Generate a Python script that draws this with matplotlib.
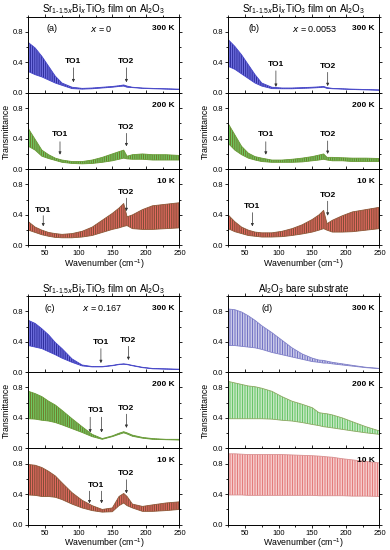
import numpy as np
import matplotlib.pyplot as plt
from matplotlib.colors import to_rgba
from matplotlib.ticker import MultipleLocator

plt.rcParams['font.family'] = ['Liberation Sans', 'DejaVu Sans']
plt.rcParams['mathtext.default'] = 'regular'
plt.rcParams['hatch.linewidth'] = 0.7

# wavenumber knots (cm^-1) where the fringe envelopes were read
wn = [25, 35, 45, 55, 65, 75, 90, 105, 120, 135, 150, 160, 167, 172, 180, 195, 210, 230, 250]

# (a) x = 0
a300_hi = [0.66, 0.59, 0.48, 0.35, 0.22, 0.13, 0.075, 0.06, 0.065, 0.075, 0.085, 0.095, 0.105, 0.09, 0.075, 0.065, 0.06, 0.055, 0.05]
a300_lo = [0.28, 0.24, 0.21, 0.17, 0.13, 0.10, 0.057, 0.05, 0.055, 0.065, 0.075, 0.085, 0.09, 0.075, 0.07, 0.06, 0.055, 0.05, 0.045]
a200_hi = [0.53, 0.39, 0.25, 0.19, 0.145, 0.12, 0.10, 0.10, 0.12, 0.155, 0.20, 0.23, 0.25, 0.17, 0.19, 0.20, 0.19, 0.19, 0.18]
a200_lo = [0.30, 0.25, 0.17, 0.14, 0.115, 0.09, 0.075, 0.07, 0.075, 0.09, 0.11, 0.13, 0.145, 0.135, 0.13, 0.13, 0.12, 0.12, 0.12]
a10_hi = [0.31, 0.24, 0.20, 0.17, 0.155, 0.145, 0.155, 0.185, 0.24, 0.33, 0.42, 0.49, 0.55, 0.375, 0.40, 0.47, 0.52, 0.54, 0.56]
a10_lo = [0.20, 0.17, 0.14, 0.12, 0.105, 0.10, 0.10, 0.11, 0.13, 0.17, 0.21, 0.23, 0.25, 0.26, 0.22, 0.21, 0.21, 0.22, 0.23]

# (b) x = 0.0053
b300_hi = [0.70, 0.61, 0.50, 0.37, 0.24, 0.13, 0.075, 0.065, 0.065, 0.07, 0.075, 0.08, 0.085, 0.07, 0.06, 0.055, 0.05, 0.045, 0.04]
b300_lo = [0.35, 0.31, 0.25, 0.19, 0.13, 0.09, 0.057, 0.055, 0.055, 0.06, 0.065, 0.07, 0.075, 0.06, 0.055, 0.05, 0.045, 0.04, 0.035]
b200_hi = [0.60, 0.45, 0.30, 0.21, 0.165, 0.145, 0.12, 0.12, 0.13, 0.145, 0.165, 0.185, 0.20, 0.155, 0.155, 0.15, 0.145, 0.145, 0.14]
b200_lo = [0.34, 0.25, 0.19, 0.145, 0.12, 0.10, 0.09, 0.09, 0.09, 0.095, 0.11, 0.12, 0.13, 0.12, 0.11, 0.11, 0.10, 0.10, 0.10]
b10_hi = [0.40, 0.31, 0.24, 0.20, 0.175, 0.165, 0.165, 0.185, 0.22, 0.27, 0.34, 0.40, 0.46, 0.285, 0.33, 0.39, 0.44, 0.47, 0.50]
b10_lo = [0.22, 0.18, 0.155, 0.13, 0.12, 0.11, 0.11, 0.115, 0.13, 0.15, 0.175, 0.20, 0.22, 0.20, 0.175, 0.175, 0.18, 0.20, 0.22]

# (c) x = 0.167
c300_hi = [0.68, 0.64, 0.57, 0.49, 0.39, 0.31, 0.175, 0.095, 0.075, 0.075, 0.09, 0.105, 0.11, 0.105, 0.09, 0.065, 0.05, 0.045, 0.04]
c300_lo = [0.35, 0.33, 0.31, 0.27, 0.23, 0.185, 0.13, 0.083, 0.07, 0.07, 0.085, 0.10, 0.105, 0.10, 0.085, 0.06, 0.045, 0.04, 0.035]
c200_hi = [0.75, 0.72, 0.68, 0.62, 0.57, 0.50, 0.39, 0.285, 0.185, 0.13, 0.165, 0.20, 0.22, 0.205, 0.175, 0.145, 0.13, 0.12, 0.12]
c200_lo = [0.39, 0.385, 0.37, 0.36, 0.34, 0.31, 0.26, 0.21, 0.155, 0.12, 0.155, 0.185, 0.205, 0.19, 0.16, 0.135, 0.12, 0.115, 0.11]
c10_hi = [0.79, 0.78, 0.75, 0.70, 0.64, 0.55, 0.42, 0.32, 0.25, 0.20, 0.22, 0.37, 0.41, 0.37, 0.27, 0.24, 0.26, 0.285, 0.30]
c10_lo = [0.39, 0.385, 0.37, 0.37, 0.36, 0.33, 0.27, 0.22, 0.185, 0.165, 0.17, 0.25, 0.285, 0.25, 0.22, 0.175, 0.175, 0.185, 0.20]

# (d) Al2O3 bare substrate
d300_hi = [0.83, 0.82, 0.79, 0.74, 0.68, 0.61, 0.52, 0.42, 0.32, 0.24, 0.185, 0.16, 0.155, 0.145, 0.13, 0.11, 0.09, 0.065, 0.05]
d300_lo = [0.35, 0.35, 0.34, 0.33, 0.32, 0.30, 0.26, 0.23, 0.20, 0.17, 0.14, 0.13, 0.12, 0.12, 0.11, 0.095, 0.08, 0.06, 0.048]
d200_hi = [0.88, 0.86, 0.84, 0.82, 0.81, 0.79, 0.75, 0.68, 0.62, 0.58, 0.535, 0.47, 0.46, 0.455, 0.44, 0.40, 0.35, 0.285, 0.23]
d200_lo = [0.39, 0.39, 0.39, 0.39, 0.39, 0.39, 0.385, 0.37, 0.36, 0.34, 0.315, 0.30, 0.285, 0.28, 0.27, 0.25, 0.23, 0.205, 0.185]
d10_hi = [0.93, 0.93, 0.925, 0.92, 0.92, 0.92, 0.92, 0.92, 0.915, 0.91, 0.905, 0.90, 0.895, 0.89, 0.885, 0.865, 0.85, 0.83, 0.81]
d10_lo = [0.39, 0.39, 0.39, 0.385, 0.385, 0.385, 0.385, 0.385, 0.385, 0.385, 0.385, 0.38, 0.38, 0.38, 0.38, 0.38, 0.375, 0.375, 0.37]

temps = ['300 K', '200 K', '10 K']
film_title = r'Sr$_{1\text{-}1.5\mathit{x}}$Bi$_{\mathit{x}}$TiO$_3$ film on Al$_2$O$_3$'
titles = [film_title, film_title, film_title, r'Al$_2$O$_3$ bare substrate']
letters = ['(a)', '(b)', '(c)', '(d)']
letter_x = [60, 63, 57, 83]
comps = [r'$\mathit{x}$ = 0', r'$\mathit{x}$ = 0.0053', r'$\mathit{x}$ = 0.167', '']
comp_x = [134, 154, 135, 0]

series = [[(a300_hi, a300_lo), (a200_hi, a200_lo), (a10_hi, a10_lo)],
          [(b300_hi, b300_lo), (b200_hi, b200_lo), (b10_hi, b10_lo)],
          [(c300_hi, c300_lo), (c200_hi, c200_lo), (c10_hi, c10_lo)],
          [(d300_hi, d300_lo), (d200_hi, d200_lo), (d10_hi, d10_lo)]]

# TO markers: (label, [arrow wavenumbers], text y, arrow top, arrow tip)
markers = {
    (0, 0): [('TO1', [92], 0.41, 0.33, 0.14), ('TO2', [171], 0.41, 0.33, 0.14)],
    (0, 1): [('TO1', [72], 0.45, 0.36, 0.19), ('TO2', [171], 0.55, 0.47, 0.30)],
    (0, 2): [('TO1', [47], 0.46, 0.39, 0.25), ('TO2', [171], 0.70, 0.62, 0.45)],
    (1, 0): [('TO1', [96], 0.37, 0.29, 0.08), ('TO2', [173], 0.35, 0.27, 0.09)],
    (1, 1): [('TO1', [81], 0.45, 0.36, 0.19), ('TO2', [173], 0.45, 0.37, 0.20)],
    (1, 2): [('TO1', [61], 0.51, 0.43, 0.25), ('TO2', [173], 0.66, 0.58, 0.39)],
    (2, 0): [('TO1', [133], 0.39, 0.31, 0.12), ('TO2', [174], 0.42, 0.34, 0.16)],
    (2, 1): [('TO1', [117, 134], 0.50, 0.41, 0.21), ('TO2', [171], 0.53, 0.45, 0.27)],
    (2, 2): [('TO1', [116, 134], 0.52, 0.44, 0.28), ('TO2', [171], 0.67, 0.59, 0.41)],
}

# colours: (face, hatch, line)
film_cols = [('#5a5ae6', '#2c2c9c', '#4646c8'),
             ('#4ccc44', '#6f7a2c', '#6a9a38'),
             ('#ee4a40', '#7c4c34', '#8e5a3a')]
sub_cols = [('#f2f2fa', '#7070c4', '#8080c8'),
            ('#eef8ec', '#66c466', '#8aa860'),
            ('#fcf0f0', '#e47a7a', '#d89090')]

fig = plt.figure(figsize=(3.9, 5.5), dpi=100)

col_left = [0.073, 0.585]
col_w = [0.387, 0.388]
row_tops = [0.9696, 0.4618]
ph = 0.1386

for p in range(4):
    r, c = divmod(p, 2)
    axes = []
    for k in range(3):
        bottom = row_tops[r] - (k + 1) * ph
        ax = fig.add_axes([col_left[c], bottom, col_w[c], ph])
        axes.append(ax)
        hi, lo = series[p][k]
        face, hcol, lcol = (sub_cols if p == 3 else film_cols)[k]
        hatch = '|' * 10 if p == 3 else '|' * 9
        ax.fill_between(wn, lo, hi, facecolor=to_rgba(face, 0.8 if p < 3 else 1.0),
                        edgecolor=hcol, hatch=hatch, linewidth=0)
        ax.plot(wn, hi, color=lcol, lw=0.6)
        ax.plot(wn, lo, color=lcol, lw=0.6)

        ax.set_xlim(25, 250)
        ax.set_ylim(0, 1.0)
        ax.set_yticks([0.0, 0.4, 0.8])
        ax.set_yticklabels(['0.0', '0.4', '0.8'])
        ax.yaxis.set_minor_locator(MultipleLocator(0.2))
        ax.set_xticks([50, 100, 150, 200, 250])
        ax.xaxis.set_minor_locator(MultipleLocator(25))
        ax.tick_params(which='both', direction='out', top=True, right=True,
                       labelsize=5.5, width=0.6, pad=1)
        ax.tick_params(which='major', length=2.5)
        ax.tick_params(which='minor', length=1.5)
        for s in ax.spines.values():
            s.set_linewidth(0.7)
        if k < 2:
            ax.tick_params(labelbottom=False)
        else:
            ax.set_xlabel(r'Wavenumber (cm$^{-1}$)', fontsize=6.3, labelpad=0)
        if k == 1:
            ax.set_ylabel('Transmittance', fontsize=6.3, labelpad=2)

        ax.text(243, 0.84, temps[k], fontsize=6, fontweight='bold', ha='right', va='center')

        for name, xs, ty, y0, y1 in markers.get((p, k), []):
            ax.text(np.mean(xs), ty, name, fontsize=6, fontweight='bold', ha='center', va='center')
            for xv in xs:
                ax.annotate('', xy=(xv, y1), xytext=(xv, y0),
                            arrowprops=dict(arrowstyle='-|>', lw=0.5, color='#333333',
                                            mutation_scale=4, shrinkA=0, shrinkB=0))

    top = axes[0]
    top.text(letter_x[p], 0.84, letters[p], fontsize=6.5, ha='center', va='center')
    if comps[p]:
        top.text(comp_x[p], 0.84, comps[p], fontsize=6.5, ha='center', va='center')
    top.set_title(titles[p], fontsize=7, pad=3)

fig.savefig('out.png', dpi=100)
